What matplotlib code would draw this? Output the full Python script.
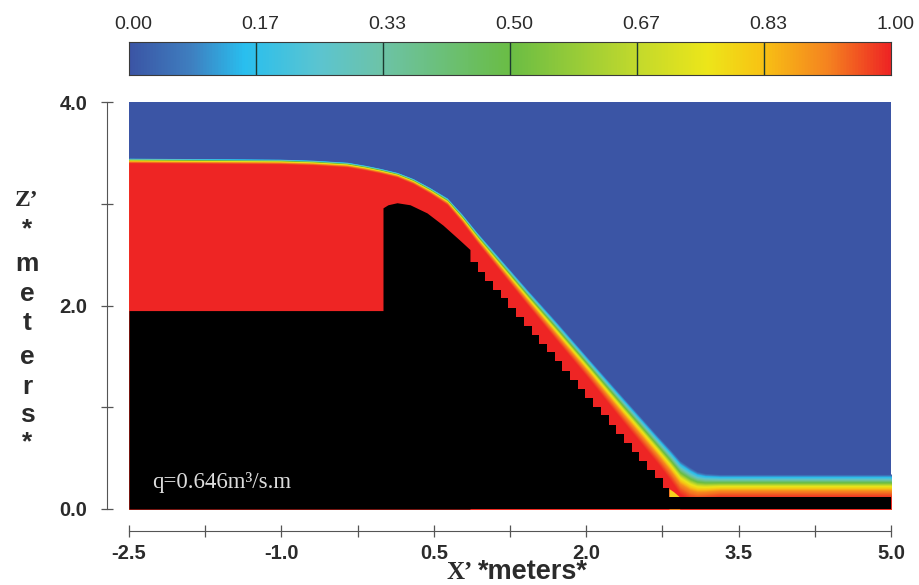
import numpy
import matplotlib
matplotlib.use('Agg')
import matplotlib.pyplot as plt
from matplotlib.colors import LinearSegmentedColormap

# colour scale
cmap_levels = [0.0, 0.08, 0.15, 0.25, 0.33, 0.50, 0.67, 0.76, 0.83, 0.92, 1.0]
cmap_colors = ['#3b55a5', '#3f7fc0', '#29bfef', '#5cc5d0', '#6dc3a8', '#6abd45',
               '#c4da2c', '#ede61a', '#f8c414', '#f58220', '#ee2524']
bar_ticks = [0.0, 0.1667, 0.3333, 0.5, 0.6667, 0.8333, 1.0]
bar_labels = ['0.00', '0.17', '0.33', '0.50', '0.67', '0.83', '1.00']

# where each colour level sits inside the band, as part of its thickness
band_levels = [0.0, 0.15, 0.25, 0.50, 0.76, 0.92, 1.0]
band_depths = [0.0, 0.12, 0.20, 0.36, 0.52, 0.72, 1.0]

# free surface (top of the transition band) and band thickness
surf_x = [-2.5, -1.014, -0.689, -0.354, -0.177, -0.03, 0.138, 0.295, 0.463, 0.630,
          0.778, 0.925, 1.418, 1.693, 2.038, 2.362, 2.697, 2.825, 2.923, 3.022,
          3.091, 3.17, 3.317, 5.0]
surf_z = [3.45, 3.44, 3.43, 3.41, 3.38, 3.35, 3.31, 3.25, 3.16, 3.06,
          2.90, 2.72, 2.16, 1.857, 1.464, 1.10, 0.727, 0.59, 0.48, 0.413,
          0.373, 0.354, 0.344, 0.344]
band_t = [0.05, 0.05, 0.05, 0.05, 0.05, 0.05, 0.05, 0.055, 0.06, 0.07,
          0.085, 0.10, 0.15, 0.18, 0.20, 0.24, 0.27, 0.30, 0.33, 0.32,
          0.29, 0.26, 0.23, 0.23]

# weir crest, the smooth part
crest_x = [-2.5, 0.0, 0.0, 0.049, 0.138, 0.266, 0.433, 0.59, 0.758, 0.856]
crest_z = [1.95, 1.95, 2.96, 2.99, 3.01, 2.99, 2.91, 2.79, 2.64, 2.55]

# stepped chute face of the weir
stair_x = [0.856, 0.932, 1.008, 1.083, 1.159, 1.235, 1.311, 1.387, 1.462, 1.538,
           1.614, 1.690, 1.766, 1.841, 1.917, 1.993, 2.069, 2.145, 2.220, 2.296,
           2.372, 2.448, 2.524, 2.599, 2.675, 2.751, 2.815]
stair_z = [2.43, 2.33, 2.24, 2.15, 2.07, 1.98, 1.89, 1.80, 1.71, 1.62,
           1.54, 1.45, 1.36, 1.27, 1.18, 1.09, 1.00, 0.92, 0.83, 0.74,
           0.65, 0.56, 0.47, 0.38, 0.30, 0.21, 0.118]

# downstream floor
floor_x = [2.815, 5.0]
floor_z = [0.118, 0.118]

# pale wedge at the toe of the chute
toe_x = [2.815, 2.86, 2.92]
toe_z = [0.20, 0.17, 0.118]

x_ticks = [-2.5, -1.75, -1.0, -0.25, 0.5, 1.25, 2.0, 2.75, 3.5, 4.25, 5.0]
x_labels = ['-2.5', '', '-1.0', '', '0.5', '', '2.0', '', '3.5', '', '5.0']
z_ticks = [0.0, 1.0, 2.0, 3.0, 4.0]
z_labels = ['0.0', '', '2.0', '', '4.0']

# stacked axis title, letter and its height in the picture
z_title = [("Z\u2019", 200), ('*', 229), ('m', 264), ('e', 294), ('t', 323),
           ('e', 357), ('r', 387), ('s', 415), ('*', 442)]

W, H = 920, 585
SANS = 'Liberation Sans'
SERIF = 'Liberation Serif'
INK = '#2b2b2b'


def main():
    fig = plt.figure(figsize=(W/100, H/100), dpi=100)
    ax = fig.add_axes([129/W, 1-509/H, 762/W, 407/H])
    cax = fig.add_axes([129/W, 1-75/H, 762/W, 33/H])

    stops = list(zip(cmap_levels, cmap_colors))
    cmap = LinearSegmentedColormap.from_list('vof', stops, N=256)

    # colour bar
    grad = numpy.linspace(0, 1, 512).reshape(1, -1)
    cax.imshow(grad, cmap=cmap, aspect='auto', extent=[0, 1, 0, 1])
    for t in bar_ticks[1:-1]:
        cax.axvline(t, color='#1c3a30', lw=1.0)
    cax.set_xticks([])
    cax.set_yticks([])
    for s in cax.spines.values():
        s.set_linewidth(0.8)
        s.set_color('#3a3a3a')
    for t, lab in zip(bar_ticks, bar_labels):
        cax.text(t+0.006, 1.52, lab, ha='center', va='center', fontsize=14,
                 family=SANS, color=INK)

    # water layers painted from the surface down to full red
    ax.set_facecolor(cmap(0.0))
    s = numpy.array(surf_z)
    b = numpy.array(band_t)
    for lev in numpy.linspace(0, 1, 120):
        depth = numpy.interp(lev, band_levels, band_depths)
        ax.fill_between(surf_x, s-depth*b, 0, color=cmap(lev), lw=0)
    ax.fill_between(toe_x, toe_z, 0, color='#f3d21c', lw=0)

    # the weir
    ax.fill_between(crest_x, crest_z, 0, color='k', lw=0)
    ax.fill_between(stair_x, stair_z, 0, step='post', color='k', lw=0)
    ax.fill_between(floor_x, floor_z, 0, color='k', lw=0)

    ax.text(0.03, 0.066, 'q=0.646m\u00b3/s.m', transform=ax.transAxes, color='#dcdcdc',
            fontsize=16.5, family=SERIF, va='center')

    ax.set_xlim(-2.5, 5.0)
    ax.set_ylim(0, 4)
    ax.spines['top'].set_visible(False)
    ax.spines['right'].set_visible(False)
    ax.spines['left'].set_position(('outward', 16))
    ax.spines['bottom'].set_position(('outward', 16))
    ax.spines['left'].set_color('#555555')
    ax.spines['bottom'].set_color('#555555')
    ax.set_xticks(x_ticks, x_labels)
    ax.set_yticks(z_ticks, z_labels)
    ax.tick_params(direction='inout', length=8, width=0.9, color='#555555')
    ax.tick_params(axis='x', pad=5)
    ax.tick_params(axis='y', pad=10)
    for lab in ax.get_xticklabels() + ax.get_yticklabels():
        lab.set_fontsize(14.5)
        lab.set_fontweight('bold')
        lab.set_family(SANS)
        lab.set_color(INK)

    # axis titles
    for txt, py in z_title:
        fam = SERIF if txt.startswith('Z') else SANS
        size = 17 if txt.startswith('Z') else 19
        fig.text(27/W, 1-py/H, txt, ha='center', va='center', fontsize=size,
                 fontweight='bold', family=fam, color=INK)
    fig.text(447/W, 1-579/H, 'X\u2019', ha='left', va='baseline', fontsize=18,
             fontweight='bold', family=SERIF, color=INK)
    fig.text(478/W, 1-579/H, '*meters*', ha='left', va='baseline', fontsize=19.5,
             fontweight='bold', family=SANS, color=INK)

    fig.savefig('out.png', dpi=100)


if __name__ == "__main__":
    main()
